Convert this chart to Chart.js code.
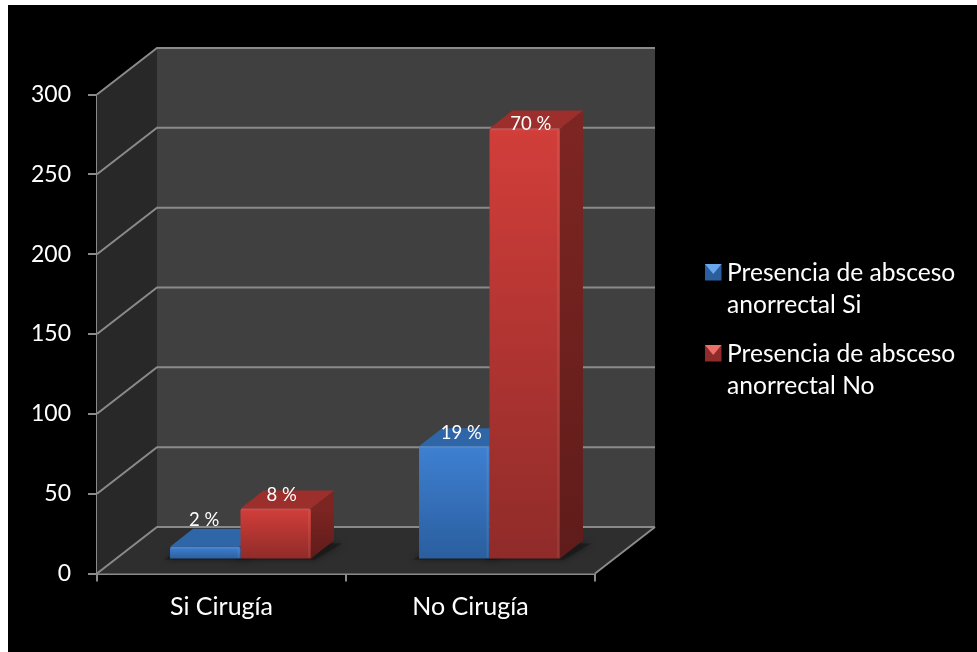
<!DOCTYPE html>
<html>
<head>
<meta charset="utf-8">
<title>Absceso anorrectal</title>
<script src="https://cdn.jsdelivr.net/npm/chart.js@4"></script>
<style>
    html, body { margin: 0; padding: 0; background: #fff; overflow: hidden; }
    #wrap { position: absolute; left: 8px; top: 5px; width: 969px; height: 647px; background: #000; }
</style>
</head>
<body>
<div id="wrap"><canvas id="Chart" width="969" height="647"></canvas></div>
<script>
// values
const categories = ['Si Cirugía', 'No Cirugía'];
const seriesNames = ['Presencia de absceso anorrectal Si', 'Presencia de absceso anorrectal No'];
const absesoSi = [8, 71];
const absesoNo = [32, 270];
const labelsSi = ['2 %', '19 %'];
const labelsNo = ['8 %', '70 %'];
const yTicks = [0, 50, 100, 150, 200, 250, 300];

const FONT = 'Lato';
const WALL_DX = 60, WALL_DY = -46.5;   // depth of the box
const BAR_DX = 19, BAR_DY = -14;       // bars stand in the middle of the floor
const DEPTH_DX = 23, DEPTH_DY = -18;   // depth of each bar

// colours for each series: front top, front bottom, top face, side top, side bottom
const blue = { hi: '#3f80d2', lo: '#2a5e9e', top: '#2f66a8', sideHi: '#254f85', sideLo: '#1c3d66' };
const red = { hi: '#d23e3a', lo: '#8f2b29', top: '#9c2f2c', sideHi: '#7d2522', sideLo: '#5f1c1a' };

function frontGradient(context, colors) {
    const chart = context.chart;
    const yScale = chart.scales.y;
    const value = context.dataset.data[context.dataIndex];
    if (!yScale || value === undefined) return colors.hi;
    const y0 = yScale.getPixelForValue(value), y1 = yScale.getPixelForValue(0);
    if (!isFinite(y0) || !isFinite(y1)) return colors.hi; // scale not laid out yet
    const g = chart.ctx.createLinearGradient(0, y0, 0, y1);
    g.addColorStop(0, colors.hi);
    g.addColorStop(1, colors.lo);
    return g;
}

// draws walls and floor, then the top and side of every bar
const box3d = {
    id: 'box3d',
    beforeDatasetsDraw(chart) {
        const ctx = chart.ctx;
        const { left, right } = chart.chartArea;
        const yScale = chart.scales.y;
        const top = yScale.getPixelForValue(300), bottom = yScale.getPixelForValue(0);

        const poly = (pts, fill) => {
            ctx.beginPath();
            pts.forEach((p, i) => i ? ctx.lineTo(p[0], p[1]) : ctx.moveTo(p[0], p[1]));
            ctx.closePath();
            ctx.fillStyle = fill;
            ctx.fill();
        };

        ctx.save();
        // back wall, left wall, floor
        poly([[left + WALL_DX, top + WALL_DY], [right + WALL_DX, top + WALL_DY], [right + WALL_DX, bottom + WALL_DY], [left + WALL_DX, bottom + WALL_DY]], '#404040');
        poly([[left, top], [left + WALL_DX, top + WALL_DY], [left + WALL_DX, bottom + WALL_DY], [left, bottom]], '#282828');
        poly([[left, bottom], [left + WALL_DX, bottom + WALL_DY], [right + WALL_DX, bottom + WALL_DY], [right, bottom]], '#2e2e2e');

        // grid lines run along the left wall and the back wall
        ctx.strokeStyle = '#8a8a8a';
        ctx.lineWidth = 2;
        yScale.ticks.forEach(t => {
            const y = yScale.getPixelForValue(t.value);
            ctx.beginPath();
            ctx.moveTo(left, y);
            ctx.lineTo(left + WALL_DX, y + WALL_DY);
            ctx.lineTo(right + WALL_DX, y + WALL_DY);
            ctx.stroke();
        });
        ctx.beginPath();
        ctx.moveTo(right + WALL_DX, bottom + WALL_DY);
        ctx.lineTo(right, bottom);
        ctx.stroke();
        ctx.restore();

        // bars are moved back onto the floor, restored in afterDatasetsDraw
        ctx.save();
        ctx.translate(BAR_DX, BAR_DY);

        // soft shadow on the floor
        chart.getDatasetMeta(1).data.concat(chart.getDatasetMeta(0).data).forEach(bar => {
            const x0 = bar.x - bar.width / 2, x1 = bar.x + bar.width / 2, b = bar.base;
            ctx.save();
            ctx.shadowColor = 'rgba(0,0,0,0.6)';
            ctx.shadowBlur = 7;
            poly([[x0 - 6, b + 1], [x1 + 4, b + 1], [x1 + DEPTH_DX + 8, b + DEPTH_DY + 3], [x0 + DEPTH_DX, b + DEPTH_DY + 3]], 'rgba(24,24,24,0.7)');
            ctx.restore();
        });

        [blue, red].forEach((colors, i) => {
            chart.getDatasetMeta(i).data.forEach(bar => {
                const x0 = bar.x - bar.width / 2, x1 = bar.x + bar.width / 2;
                const side = ctx.createLinearGradient(0, bar.y, 0, bar.base);
                side.addColorStop(0, colors.sideHi);
                side.addColorStop(1, colors.sideLo);
                poly([[x1, bar.y], [x1 + DEPTH_DX, bar.y + DEPTH_DY], [x1 + DEPTH_DX, bar.base + DEPTH_DY], [x1, bar.base]], side);
                poly([[x0, bar.y], [x0 + DEPTH_DX, bar.y + DEPTH_DY], [x1 + DEPTH_DX, bar.y + DEPTH_DY], [x1, bar.y]], colors.top);
            });
        });
    },
    afterDatasetsDraw(chart) {
        const ctx = chart.ctx;
        // thin light edge on the front faces
        [0, 1].forEach(i => {
            chart.getDatasetMeta(i).data.forEach(bar => {
                const x1 = bar.x + bar.width / 2;
                ctx.fillStyle = 'rgba(255,255,255,0.07)';
                ctx.fillRect(bar.x - bar.width / 2 + 1, bar.y, bar.width - 2, 2);
                ctx.fillRect(x1 - 3, bar.y + 2, 2, bar.base - bar.y - 3);
            });
        });
        // text labels, nudged as in the original
        const nudges = [[[-1, -27], [7, -13]], [[6, -13], [6, -4]]];
        ctx.font = '18.5px ' + FONT;
        ctx.fillStyle = '#fff';
        ctx.textAlign = 'center';
        ctx.textBaseline = 'middle';
        [labelsSi, labelsNo].forEach((labels, i) => {
            chart.getDatasetMeta(i).data.forEach((bar, j) => {
                ctx.fillText(labels[j], bar.x + nudges[i][j][0], bar.y + nudges[i][j][1]);
            });
        });
        ctx.restore();
        drawLegend(chart);
    }
};

// legend with wrapped names, Chart.js legend does not wrap
function drawLegend(chart) {
    const ctx = chart.ctx;
    const rows = [[blue, 259, '#6aa8ee'], [red, 340, '#ee6f6a']];
    rows.forEach((row, i) => {
        const colors = row[0], y = row[1], x = 697, s = 16.5;
        ctx.fillStyle = colors.lo;
        ctx.fillRect(x, y, s, s);
        ctx.beginPath();
        ctx.moveTo(x, y);
        ctx.lineTo(x + s, y);
        ctx.lineTo(x + s / 2, y + s * 0.6);
        ctx.closePath();
        ctx.fillStyle = row[2];
        ctx.fill();
        const words = seriesNames[i].split(' ');
        const line1 = words.slice(0, 3).join(' '), line2 = words.slice(3).join(' ');
        ctx.font = '24.6px ' + FONT;
        ctx.fillStyle = '#fff';
        ctx.textAlign = 'left';
        ctx.textBaseline = 'middle';
        ctx.fillText(line1, 719, y + 9.5);
        ctx.fillText(line2, 719, y + 41.5);
    });
}

new Chart(document.getElementById('Chart'), {
    type: 'bar',
    data: {
        labels: categories,
        datasets: [
            { label: seriesNames[0], data: absesoSi, backgroundColor: c => frontGradient(c, blue), borderRadius: 2 },
            { label: seriesNames[1], data: absesoNo, backgroundColor: c => frontGradient(c, red), borderRadius: 2 }
        ]
    },
    options: {
        responsive: false,
        animation: false,
        datasets: { bar: { categoryPercentage: 0.566, barPercentage: 1 } },
        layout: { padding: { left: 0, top: 89.5, right: 382, bottom: 0 } },
        plugins: { legend: { display: false }, tooltip: { enabled: false } },
        scales: {
            x: {
                grid: { offset: true, drawOnChartArea: false, color: '#8a8a8a', tickLength: 8, lineWidth: 2 },
                border: { color: '#8a8a8a', width: 2 },
                ticks: { color: '#fff', font: { family: FONT, size: 25 }, padding: 10, maxRotation: 0 },
                afterFit: s => { s.height = 78.5; }
            },
            y: {
                min: 0,
                max: 300,
                grid: { drawOnChartArea: false, color: '#8a8a8a', tickLength: 9, lineWidth: 2 },
                border: { color: '#8a8a8a', width: 2 },
                afterBuildTicks: s => { s.ticks = yTicks.map(v => ({ value: v })); },
                ticks: { color: '#fff', font: { family: FONT, size: 23 }, padding: 17 },
                afterFit: s => { s.width = 89; }
            }
        }
    },
    plugins: [box3d]
});
</script>
</body>
</html>
